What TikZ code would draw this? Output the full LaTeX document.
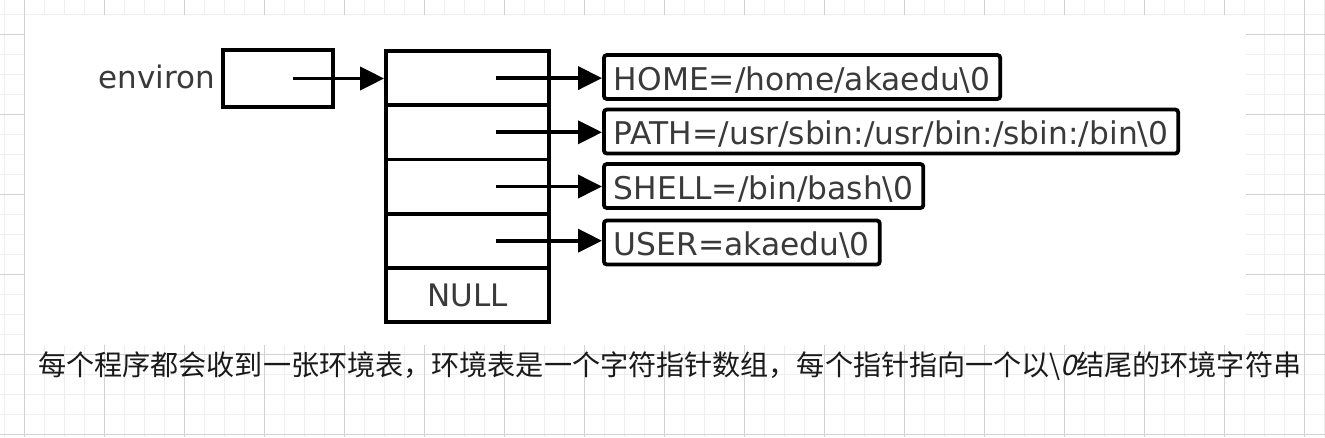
\documentclass[tikz,border=0pt]{standalone}
\usepackage{fontspec}
\usetikzlibrary{arrows.meta}
\newfontfamily\dvsans{DejaVu Sans}
\newfontfamily\cjkfont{Noto Sans CJK SC}
\newfontfamily\cjkslant[FakeSlant=0.25]{Noto Sans CJK SC}
\definecolor{txtgray}{HTML}{3A3A3A}
\definecolor{capblack}{HTML}{1A1A1A}
\definecolor{gridminor}{HTML}{EEEEEE}
\definecolor{gridmajor}{HTML}{D2D2D2}
\begin{document}
\begin{tikzpicture}[x=1pt,y=-1pt,
  boxline/.style={draw=black,line width=3.8pt},
  dvfont/.style={font=\dvsans\fontsize{31}{31}\selectfont},
  strfont/.style={font=\dvsans\fontsize{31.3}{31.3}\selectfont},
  cell/.style={boxline,rectangle,minimum width=163pt,minimum height=54.2pt,inner sep=0pt,
    text=txtgray,dvfont,text height=22.6pt,text depth=0pt},
  strbox/.style={boxline,rectangle,rounded corners=3pt,anchor=west,minimum height=44pt,
    inner xsep=10pt,inner ysep=0pt,text=txtgray,strfont,text height=26pt,text depth=0pt},
  ptr/.style={line width=3.8pt,-{Triangle[length=24pt,width=23pt]}},
  gminor/.style={draw=gridminor,line width=1pt},
  gmajor/.style={draw=gridmajor,line width=1pt},
]
\useasboundingbox (0,0) rectangle (1325,437);
\fill[white] (0,0) rectangle (1325,437);
% background grid
\foreach \i in {0,...,66} \draw[gminor] (4+20*\i,0) -- (4+20*\i,437);
\foreach \j in {0,...,21} \draw[gminor] (0,14+20*\j) -- (1325,14+20*\j);
\foreach \i in {0,...,16} \draw[gmajor] (24+80*\i,0) -- (24+80*\i,437);
\foreach \j in {0,...,5} \draw[gmajor] (0,34+80*\j) -- (1325,34+80*\j);
% white diagram area
\fill[white] (24.5,14.5) rectangle (1246,345);

% environ
\node[anchor=base east,inner sep=0pt,dvfont,text=txtgray] (envlabel) at (215,88) {environ};
\node[boxline,rectangle,minimum width=110pt,minimum height=57pt,inner sep=0pt] (envbox) at (278,78.5) {};

% array cells
\node[cell] (c1) at (467.5,78.1) {};
\node[cell] (c2) at (467.5,132.3) {};
\node[cell] (c3) at (467.5,186.5) {};
\node[cell] (c4) at (467.5,240.7) {};
\node[cell] (c5) at (467.5,294.9) {NULL};

% strings
\node[strbox] (s1) at (602,77) {HOME=/home/akaedu\textbackslash0};
\node[strbox] (s2) at (602,131.5) {PATH=/usr/sbin:/usr/bin:/sbin:/bin\textbackslash0};
\node[strbox] (s3) at (602,186) {SHELL=/bin/bash\textbackslash0};
\node[strbox] (s4) at (602,242.5) {USER=akaedu\textbackslash0};

% pointers
\draw[ptr] ([xshift=15pt]envbox.center) -- (envbox.center -| c1.west);
\draw[ptr] ([xshift=28.5pt]c1.center) -- (c1.center -| s1.west);
\draw[ptr] ([xshift=28.5pt]c2.center) -- (c2.center -| s2.west);
\draw[ptr] ([xshift=28.5pt]c3.center) -- (c3.center -| s3.west);
\draw[ptr] ([xshift=28.5pt]c4.center) -- (c4.center -| s4.west);

% caption
\node[anchor=base west,inner sep=0pt,font=\cjkfont\fontsize{28.1}{28.1}\selectfont,text=capblack] (caption) at (38,375.5)
  {每个程序都会收到一张环境表，环境表是一个字符指针数组，每个指针指向一个以\textbackslash{\cjkslant 0}结尾的环境字符串};
\end{tikzpicture}
\end{document}
